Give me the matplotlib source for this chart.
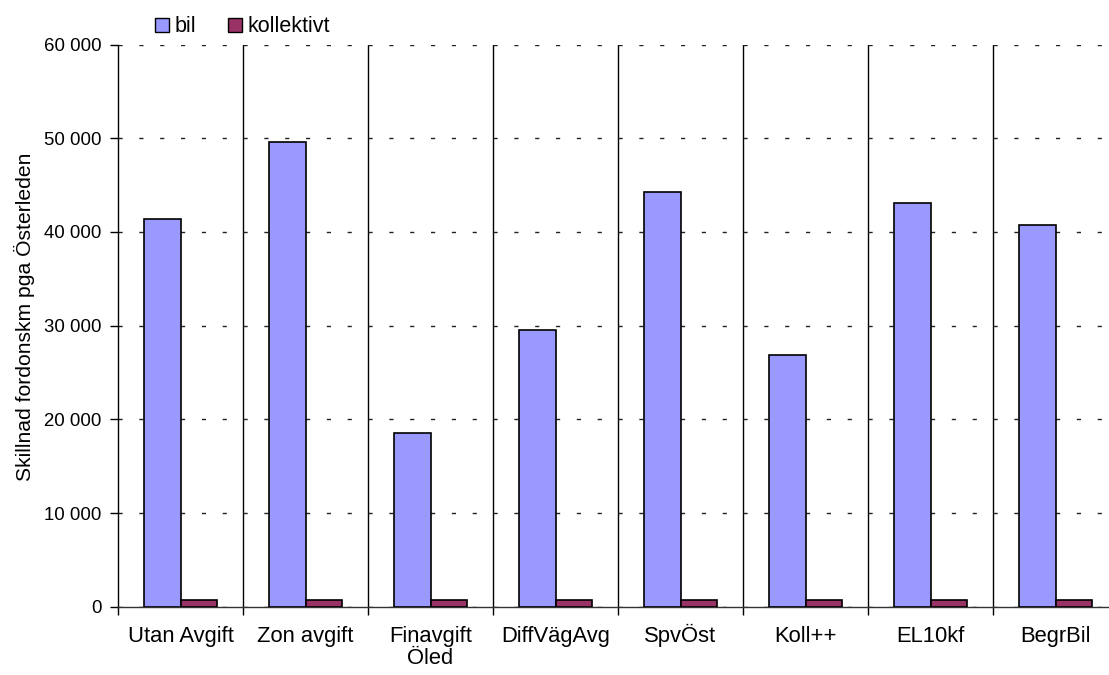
import matplotlib
matplotlib.use("Agg")
import matplotlib.pyplot as plt
import matplotlib.transforms as mtransforms
from matplotlib.ticker import FuncFormatter, FixedLocator, NullFormatter
from matplotlib.patches import Patch
import numpy as np

categories = ["Utan Avgift", "Zon avgift", "Finavgift\nÖled", "DiffVägAvg",
              "SpvÖst", "Koll++", "EL10kf", "BegrBil"]
bil = [41400, 49600, 18600, 29500, 44300, 26900, 43100, 40700]
kollektivt = [750, 750, 750, 750, 750, 750, 750, 750]
yticks = [0, 10000, 20000, 30000, 40000, 50000, 60000]
ylabel = "Skillnad fordonskm pga Österleden"

plt.rcParams['font.family'] = ['Liberation Sans', 'DejaVu Sans']

fig = plt.figure(figsize=(11.09, 6.75), dpi=100)
ax = fig.add_axes([118/1109, (675-606.8)/675, 1000/1109, (606.8-44.6)/675])

x = np.arange(len(categories))
w = 0.29
ax.bar(x - w, bil, width=w, align='edge', color='#9999FF', edgecolor='black', linewidth=1.2, zorder=3, label='bil')
ax.bar(x, kollektivt, width=w, align='edge', color='#993366', edgecolor='black', linewidth=1.2, zorder=3, label='kollektivt')

ax.set_xlim(-0.5, len(categories) - 0.5)
ax.set_ylim(0, 60000)
ax.set_yticks(yticks)
ax.yaxis.set_major_formatter(FuncFormatter(lambda v, p: f"{int(v):,}".replace(",", " ")))
ax.grid(axis='y', linestyle=(0, (3, 12)), color='#222222', linewidth=1.0, zorder=0)

for b in np.arange(len(categories)) + 0.5:
    ax.axvline(b, color='black', linewidth=1.0, zorder=1)

ax.set_xticks(x)
ax.set_xticklabels(categories, linespacing=1.05)
ax.xaxis.set_minor_locator(FixedLocator(np.arange(len(categories) + 1) - 0.5))
ax.xaxis.set_minor_formatter(NullFormatter())
ax.tick_params(axis='x', which='major', length=0, pad=14, labelsize=15.8)
ax.tick_params(axis='x', which='minor', length=6, width=1.0, direction='out')
ax.tick_params(axis='y', length=6, width=1.0, direction='out', pad=6, labelsize=13.4)

# align labels containing a tall accented capital with the others
for lbl in ax.get_xticklabels():
    if "\n" not in lbl.get_text() and "Ö" in lbl.get_text():
        lbl.set_transform(lbl.get_transform() + mtransforms.ScaledTranslation(0, 2/100, fig.dpi_scale_trans))

for s in ['top', 'right']:
    ax.spines[s].set_visible(False)
ax.spines['left'].set_linewidth(1.0)
ax.spines['bottom'].set_linewidth(1.0)
ax.spines['bottom'].set_color('#333333')

ax.set_ylabel(ylabel, fontsize=15.2)
ax.yaxis.set_label_coords(-0.083, 0.515)

handles = [Patch(facecolor='#9999FF', edgecolor='black', label='bil'),
           Patch(facecolor='#993366', edgecolor='black', label='kollektivt')]
fig.legend(handles=handles, loc='center left', bbox_to_anchor=(155/1109, 1 - 27/675),
           ncol=2, frameon=False, fontsize=15.5, handlelength=0.65, handleheight=0.65,
           handletextpad=0.25, columnspacing=1.5, borderaxespad=0, borderpad=0)

fig.savefig("out.png", dpi=100)
